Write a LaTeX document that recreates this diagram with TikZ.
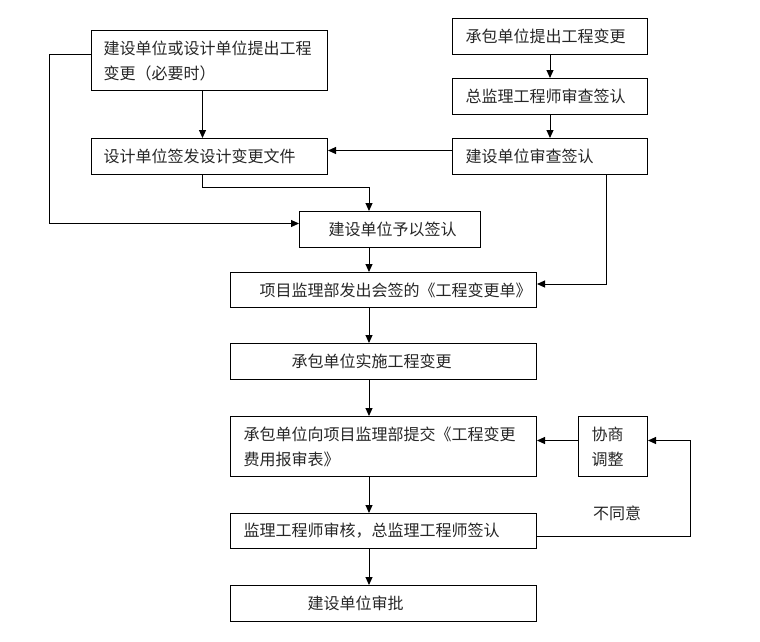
\documentclass[tikz,border=0pt]{standalone}
\usepackage{fontspec}
\usetikzlibrary{arrows.meta}
\newfontfamily\cjk{Noto Sans CJK SC}

\begin{document}
\begin{tikzpicture}[x=1pt, y=-1pt, >={Triangle[length=8pt,width=7pt]},
    flowbox/.style={draw, line width=1pt, anchor=north west, inner xsep=0pt, inner ysep=0pt,
      align=left, text=black!85, font=\cjk\fontsize{16}{25}\selectfont, minimum height=36pt},
    indent/.style={execute at begin node={\leftskip=#1\relax}},
    link/.style={->, line width=1pt}]

    \useasboundingbox (0,0) rectangle (760,641);

    % left column
    \node[flowbox, text width=236pt, minimum height=60pt, indent=12pt] (raise) at (91,30) {建设单位或设计单位提出工程\\变更（必要时）};
    \node[flowbox, text width=236pt, indent=12pt] (issue) at (91,138) {设计单位签发设计变更文件};
    \node[flowbox, text width=181pt, indent=29pt] (approve) at (299,211) {建设单位予以签认};

    % right column
    \node[flowbox, text width=195pt, indent=13pt] (propose) at (452,18) {承包单位提出工程变更};
    \node[flowbox, text width=195pt, indent=13pt] (chief) at (452,78) {总监理工程师审查签认};
    \node[flowbox, text width=195pt, indent=13pt] (review) at (452,138) {建设单位审查签认};

    % main chain
    \node[flowbox, text width=306pt, minimum height=35pt, indent=29pt] (order) at (230,272) {项目监理部发出会签的《工程变更单》};
    \node[flowbox, text width=306pt, indent=61pt] (carry) at (230,343) {承包单位实施工程变更};
    \node[flowbox, text width=306pt, minimum height=60pt, indent=13pt] (cost) at (230,416) {承包单位向项目监理部提交《工程变更\\费用报审表》};
    \node[flowbox, text width=306pt, minimum height=35pt, indent=13pt] (check) at (230,513) {监理工程师审核，总监理工程师签认};
    \node[flowbox, text width=306pt, indent=77pt] (final) at (230,585) {建设单位审批};
    \node[flowbox, text width=69pt, minimum height=60pt, indent=13pt] (adjust) at (578,416) {协商\\调整};
    \node[text=black!85, font=\cjk\fontsize{16}{25}\selectfont] (disagree) at (617,513) {不同意};

    \coordinate (spine) at (369,0);

    \draw[link] ([xshift=-7pt]raise.south) -- ([xshift=-7pt]issue.north);
    \draw[link] ([xshift=-7pt]issue.south) -- ++(0,12) -| (approve.north -| spine);
    \draw[link] ([yshift=6pt]raise.west) -- ++(-42,0) |- ([yshift=6pt]approve.west);
    \draw[link] (propose) -- (chief);
    \draw[link] (chief) -- (review);
    \draw[link] ([yshift=6pt]review.west) -- ([yshift=6pt]issue.east);
    \draw[link] ([xshift=56pt]review.south) |- ([yshift=6pt]order.east);

    \draw[link] (approve.south -| spine) -- (order.north -| spine);
    \draw[link] (order.south -| spine) -- (carry.north -| spine);
    \draw[link] (carry.south -| spine) -- (cost.north -| spine);
    \draw[link] (cost.south -| spine) -- (check.north -| spine);
    \draw[link] (check.south -| spine) -- (final.north -| spine);

    \draw[link] ([yshift=6pt]adjust.west) -- ([yshift=6pt]cost.east);
    \draw[link] ([yshift=-5pt]check.east) -- ++(153,0) |- ([yshift=6pt]adjust.east);

\end{tikzpicture}
\end{document}
